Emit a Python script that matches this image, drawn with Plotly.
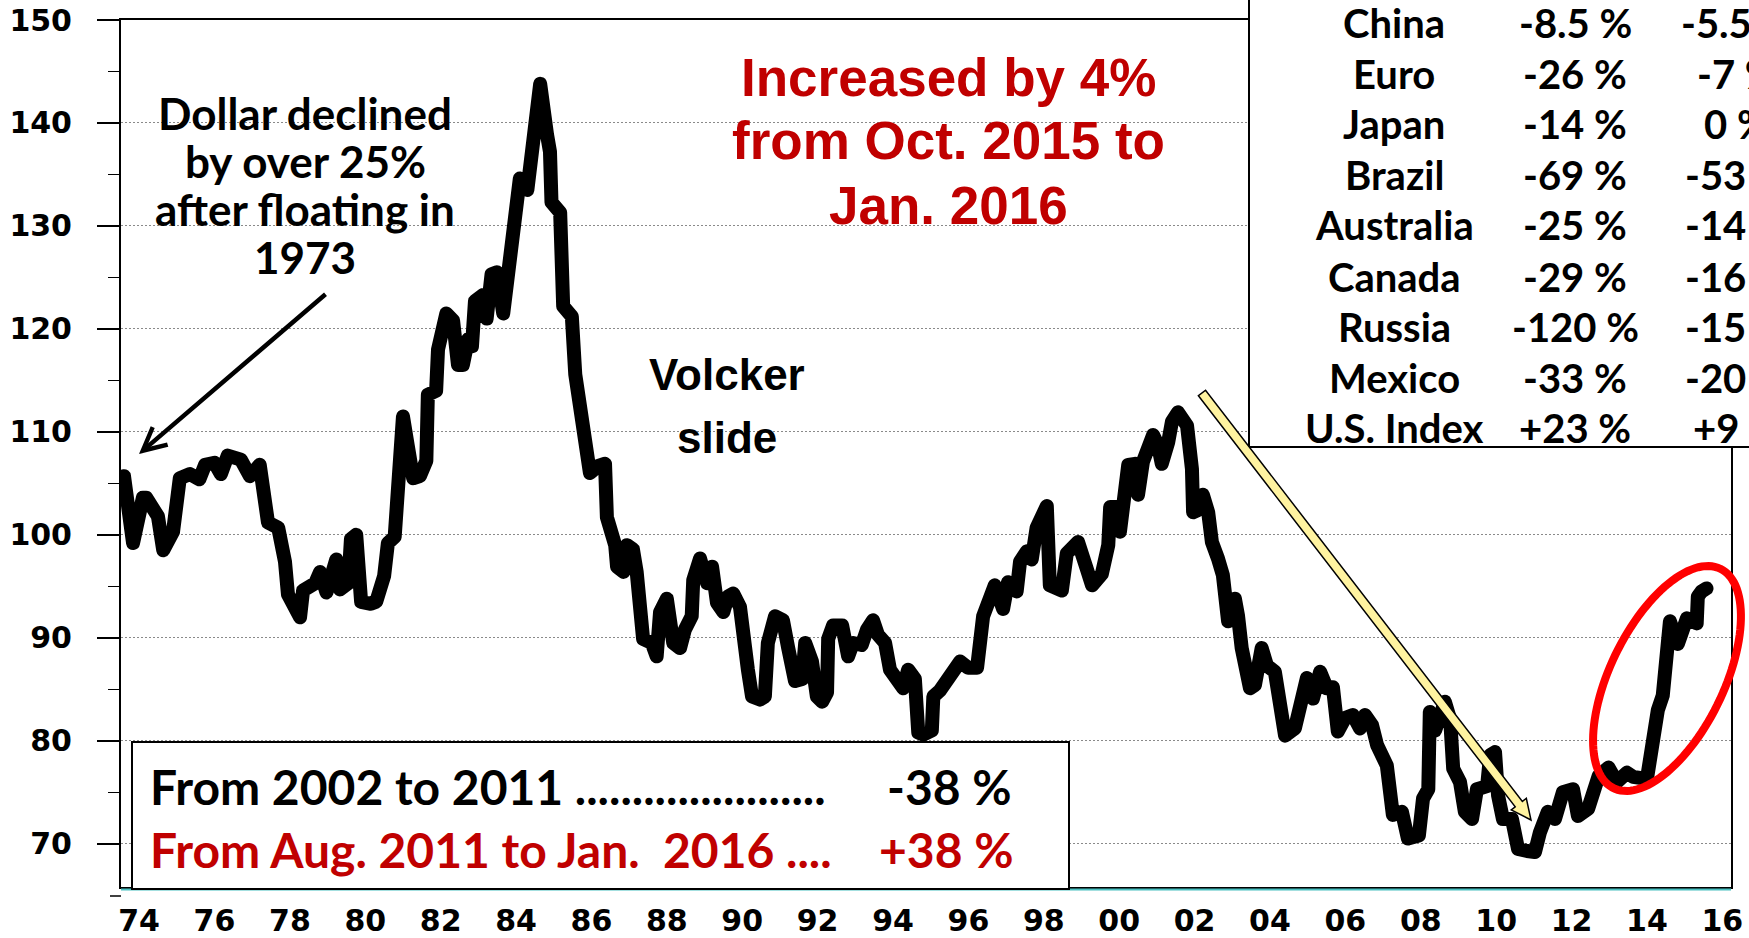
import numpy as np
import plotly.graph_objects as go

# ---------------- data ----------------
dates = [1973.60, 1973.84, 1974.10, 1974.19, 1974.50, 1974.64, 1974.90, 1975.08, 1975.35, 1975.60,
         1975.75, 1976.00, 1976.17, 1976.35, 1976.70, 1976.94, 1977.20, 1977.34, 1977.42, 1977.69,
         1977.87, 1977.95, 1978.27, 1978.35, 1978.67, 1978.80, 1978.97, 1979.23, 1979.33, 1979.55,
         1979.62, 1979.76, 1979.89, 1980.15, 1980.29, 1980.50, 1980.60, 1980.78, 1980.87, 1981.00,
         1981.13, 1981.27, 1981.45, 1981.62, 1981.66, 1981.88, 1981.93, 1982.15, 1982.33, 1982.46,
         1982.59, 1982.73, 1982.83, 1982.91, 1983.13, 1983.22, 1983.35, 1983.49, 1983.66, 1983.79,
         1983.92, 1984.10, 1984.30, 1984.45, 1984.64, 1984.82, 1984.90, 1984.94, 1985.17, 1985.25,
         1985.48, 1985.57, 1985.70, 1985.83, 1985.96, 1986.18, 1986.36, 1986.41, 1986.63, 1986.68,
         1986.85, 1986.94, 1987.10, 1987.20, 1987.29, 1987.37, 1987.60, 1987.73, 1987.82, 1988.00,
         1988.17, 1988.35, 1988.48, 1988.66, 1988.70, 1988.88, 1989.07, 1989.20, 1989.33, 1989.50,
         1989.62, 1989.76, 1989.94, 1990.02, 1990.15, 1990.26, 1990.47, 1990.60, 1990.68, 1990.87,
         1991.08, 1991.22, 1991.40, 1991.59, 1991.67, 1991.85, 1991.98, 1992.12, 1992.25, 1992.28,
         1992.41, 1992.65, 1992.81, 1992.94, 1993.17, 1993.31, 1993.47, 1993.60, 1993.79, 1993.92,
         1994.10, 1994.27, 1994.40, 1994.58, 1994.67, 1994.80, 1995.03, 1995.07, 1995.25, 1995.43,
         1995.60, 1995.78, 1995.99, 1996.23, 1996.39, 1996.57, 1996.70, 1996.92, 1997.05, 1997.28,
         1997.37, 1997.55, 1997.68, 1997.81, 1998.08, 1998.16, 1998.48, 1998.61, 1998.91, 1999.14,
         1999.28, 1999.54, 1999.71, 1999.76, 1999.97, 2000.02, 2000.15, 2000.24, 2000.42, 2000.50,
         2000.63, 2000.77, 2000.90, 2001.03, 2001.13, 2001.30, 2001.40, 2001.56, 2001.80, 2001.93,
         2001.96, 2002.09, 2002.22, 2002.36, 2002.46, 2002.62, 2002.75, 2002.89, 2003.07, 2003.15,
         2003.25, 2003.47, 2003.60, 2003.78, 2003.92, 2004.13, 2004.27, 2004.40, 2004.66, 2004.80,
         2004.98, 2005.14, 2005.33, 2005.51, 2005.67, 2005.80, 2005.99, 2006.20, 2006.39, 2006.52,
         2006.71, 2006.84, 2006.97, 2007.10, 2007.26, 2007.50, 2007.66, 2007.85, 2007.95, 2008.06,
         2008.20, 2008.24, 2008.38, 2008.64, 2008.78, 2008.86, 2009.04, 2009.17, 2009.36, 2009.49,
         2009.76, 2009.84, 2009.97, 2010.05, 2010.18, 2010.42, 2010.58, 2010.82, 2011.03, 2011.16,
         2011.37, 2011.56, 2011.77, 2012.04, 2012.17, 2012.44, 2012.63, 2012.72, 2012.98, 2013.20,
         2013.47, 2013.63, 2014.00, 2014.08, 2014.21, 2014.29, 2014.42, 2014.53, 2014.61, 2014.82,
         2014.96, 2015.06, 2015.32, 2015.35, 2015.45, 2015.58]

index_values = [105.7, 99.2, 103.6, 103.6, 101.8, 98.5, 100.3, 105.5, 105.9, 105.4,
                106.8, 107.0, 105.9, 107.7, 107.3, 105.7, 106.8, 104.3, 101.2, 100.7,
                97.4, 94.2, 92.0, 94.6, 95.3, 96.4, 94.4, 97.6, 94.7, 95.3,
                99.6, 100.0, 93.5, 93.3, 93.5, 96.0, 99.2, 99.8, 105.4, 111.5,
                108.6, 105.5, 105.7, 107.2, 113.6, 114.0, 118.0, 121.5, 120.8, 116.5,
                116.5, 119.0, 118.3, 122.7, 123.3, 121.0, 125.3, 125.5, 121.5, 125.8,
                130.7, 134.6, 133.5, 137.5, 143.8, 138.9, 137.2, 132.3, 131.3, 122.2,
                121.2, 115.6, 112.5, 109.9, 106.0, 106.7, 106.9, 101.7, 99.0, 96.9,
                96.4, 99.0, 98.6, 96.4, 92.1, 89.9, 89.5, 88.2, 92.5, 93.8,
                89.5, 89.0, 90.8, 92.1, 95.6, 97.7, 95.3, 96.9, 93.4, 92.5,
                94.0, 94.3, 93.0, 89.5, 86.9, 84.3, 84.0, 84.3, 89.5, 92.1,
                91.7, 89.0, 85.8, 86.0, 89.5, 87.7, 84.3, 83.8, 84.7, 89.9,
                91.2, 91.2, 88.2, 89.5, 89.3, 90.8, 91.7, 90.3, 89.5, 86.9,
                85.8, 85.1, 86.9, 86.0, 80.8, 80.6, 81.0, 84.3, 84.9, 86.0,
                86.9, 87.7, 87.1, 87.1, 92.1, 94.3, 95.1, 92.8, 95.4, 94.5,
                97.4, 98.4, 97.6, 100.7, 102.8, 95.1, 94.6, 98.2, 99.3, 96.7,
                95.1, 96.2, 99.0, 102.7, 102.7, 100.3, 104.2, 106.8, 106.9, 103.9,
                107.1, 108.5, 109.7, 108.7, 106.9, 109.0, 111.0, 111.9, 110.6, 106.4,
                102.2, 102.4, 103.9, 102.2, 99.3, 97.7, 96.1, 91.6, 93.8, 92.2,
                89.0, 85.1, 85.4, 89.0, 87.3, 86.7, 84.1, 80.5, 81.2, 83.8,
                86.1, 84.1, 86.7, 85.1, 85.2, 80.9, 82.2, 82.5, 81.2, 82.5,
                81.5, 79.6, 78.9, 77.6, 72.8, 73.1, 70.5, 70.8, 70.8, 74.4,
                75.3, 82.8, 81.0, 83.8, 82.1, 77.3, 76.0, 73.1, 72.4, 75.3,
                75.6, 78.6, 78.9, 74.7, 72.4, 72.4, 69.5, 69.3, 69.2, 71.1,
                73.1, 72.4, 75.0, 75.3, 72.7, 73.4, 75.3, 76.6, 77.4, 76.0,
                76.9, 76.5, 76.3, 78.2, 81.8, 83.0, 84.4, 88.6, 91.6, 89.4,
                91.6, 91.9, 91.4, 94.0, 94.5, 94.8]

tick_years = [1974, 1976, 1978, 1980, 1982, 1984, 1986, 1988, 1990, 1992, 1994,
              1996, 1998, 2000, 2002, 2004, 2006, 2008, 2010, 2012, 2014, 2016]
tick_labels = ["74", "76", "78", "80", "82", "84", "86", "88", "90", "92", "94",
               "96", "98", "00", "02", "04", "06", "08", "10", "12", "14", "16"]
y_ticks = [70, 80, 90, 100, 110, 120, 130, 140, 150]
y_minor_ticks = [75, 85, 95, 105, 115, 125, 135, 145]

countries = ["China", "Euro", "Japan", "Brazil", "Australia", "Canada", "Russia", "Mexico", "U.S. Index"]
change_long = ["-8.5 %", "-26 %", "-14 %", "-69 %", "-25 %", "-29 %", "-120 %", "-33 %", "+23 %"]
change_short = ["-5.5 %", "-7 %", "0 %", "-53 %", "-14 %", "-16 %", "-15 %", "-20 %", "+9 %"]

note_lines = ["Dollar declined", "by over 25%", "after floating in", "1973"]
red_lines = ["Increased by 4%", "from Oct. 2015 to", "Jan. 2016"]
volcker_lines = ["Volcker", "slide"]
box_text_1 = "From 2002 to 2011 ......................"
box_value_1 = "-38 %"
box_text_2 = "From Aug. 2011 to Jan.\u00a0 2016 ...."
box_value_2 = "+38 %"

# ---------------- layout geometry ----------------
W, H = 1749, 938
L, R, T, B = 121, 1731, 20, 887
X_RANGE = [1973.52, 2016.23]
Y_RANGE = [65.8, 150.0]


def fx(p):
    return (p - L) / (R - L)


def fy(p):
    return (B - p) / (B - T)


CAL = "Lato"
ARI = "Liberation Sans"
RED = "#C00000"

fig = go.Figure()
fig.add_trace(go.Scatter(x=dates, y=index_values, mode="lines",
                         line=dict(color="black", width=14), hoverinfo="skip"))

shapes = []
# white backgrounds behind text blocks (hide gridlines)
shapes.append(dict(type="rect", xref="paper", yref="paper", x0=fx(130), x1=fx(481),
                   y0=fy(300), y1=fy(78), fillcolor="white", line=dict(width=0), layer="between"))
shapes.append(dict(type="rect", xref="paper", yref="paper", x0=fx(697), x1=fx(1249),
                   y0=fy(250), y1=fy(40), fillcolor="white", line=dict(width=0), layer="between"))
# teal bottom edge
shapes.append(dict(type="line", xref="paper", yref="paper", x0=fx(121), x1=fx(1731),
                   y0=fy(889.5), y1=fy(889.5), line=dict(color="#48BFC0", width=2), layer="above"))
# minor tick at 65
shapes.append(dict(type="line", xref="paper", yref="paper", x0=fx(110), x1=fx(121),
                   y0=fy(896), y1=fy(896), line=dict(color="black", width=1.5), layer="above"))
# table box
shapes.append(dict(type="rect", xref="paper", yref="paper", x0=fx(1249), x1=fx(1775),
                   y0=fy(447), y1=fy(-10), fillcolor="white", line=dict(color="black", width=2),
                   layer="above"))
# bottom text box
shapes.append(dict(type="rect", xref="paper", yref="paper", x0=fx(132), x1=fx(1069),
                   y0=fy(889), y1=fy(742), fillcolor="white", line=dict(color="black", width=2),
                   layer="above"))

# yellow block arrow
p0 = np.array([1202.0, 393.0])
p1 = np.array([1531.0, 820.0])
u = (p1 - p0) / np.linalg.norm(p1 - p0)
n = np.array([-u[1], u[0]])
hw, hh, hl = 4.5, 9.5, 20.0
base = p1 - u * hl
poly = [p0 + n * hw, base + n * hw, base + n * hh, p1, base - n * hh, base - n * hw, p0 - n * hw]
path = "M " + " L ".join(f"{fx(p[0]):.5f},{fy(p[1]):.5f}" for p in poly) + " Z"
shapes.append(dict(type="path", xref="paper", yref="paper", path=path,
                   fillcolor="#FFF3A0", line=dict(color="black", width=1.5), layer="above"))

# red ellipse
cx, cy, ea, eb, th = 1667.0, 678.5, 122.0, 56.8, np.deg2rad(64)
t = np.linspace(0, 2 * np.pi, 120)
ex = cx + ea * np.cos(t) * np.cos(th) - eb * np.sin(t) * np.sin(th)
ey = cy - (ea * np.cos(t) * np.sin(th) + eb * np.sin(t) * np.cos(th))
epath = "M " + " L ".join(f"{fx(a):.5f},{fy(b):.5f}" for a, b in zip(ex, ey)) + " Z"
shapes.append(dict(type="path", xref="paper", yref="paper", path=epath,
                   line=dict(color="#FF0000", width=8), layer="above"))

annotations = []


def txt(text, x, y, size, family, color="black", xanchor="center"):
    annotations.append(dict(text=text, x=fx(x), y=fy(y), xref="paper", yref="paper",
                            xanchor=xanchor, yanchor="middle", showarrow=False,
                            font=dict(family=family, size=size, color=color, weight="bold")))


for line, yy in zip(note_lines, [113, 161, 209, 257]):
    txt(line, 305, yy, 44, CAL)
for line, yy in zip(red_lines, [77, 141, 205]):
    txt(line, 948, yy, 53, ARI, RED)
for line, yy in zip(volcker_lines, [374, 437]):
    txt(line, 727, yy, 44, ARI)

txt(box_text_1, 148, 786, 48, CAL, xanchor="left")
txt(box_value_1, 885, 786, 48, CAL, xanchor="left")
txt(box_text_2, 148, 849, 48, CAL, RED, xanchor="left")
txt(box_value_2, 877, 849, 48, CAL, RED, xanchor="left")

row_y = [23, 74, 124, 175, 225, 277, 327, 378, 428]
for c, a, b, yy in zip(countries, change_long, change_short, row_y):
    txt(c, 1394, yy, 40, CAL)
    txt(a, 1575, yy, 40, CAL)
    txt(b, 1737, yy, 40, CAL)

# black arrow
annotations.append(dict(text="", x=fx(139), y=fy(454), xref="paper", yref="paper",
                        ax=188, ay=-161, showarrow=True, arrowhead=5, arrowsize=1.0,
                        arrowwidth=4.5, arrowcolor="black"))

fig.update_layout(
    width=W, height=H,
    margin=dict(l=L, r=W - R, t=T, b=H - B, pad=0, autoexpand=False),
    paper_bgcolor="white", plot_bgcolor="white",
    showlegend=False,
    shapes=shapes, annotations=annotations,
    xaxis=dict(range=X_RANGE, tickmode="array", tickvals=tick_years, ticktext=tick_labels,
               ticks="", showgrid=False, zeroline=False, automargin=False,
               showline=True, linecolor="black", linewidth=2, mirror=True,
               tickfont=dict(family="DejaVu Sans", size=30, color="black", weight="bold"),
               ticklabelstandoff=6),
    yaxis=dict(range=Y_RANGE, tickmode="array", tickvals=y_ticks, automargin=False,
               ticks="outside", ticklen=22, tickwidth=1.5, tickcolor="black",
               minor=dict(tickmode="array", tickvals=y_minor_ticks, ticks="outside",
                          ticklen=11, tickwidth=1.5, tickcolor="black", showgrid=False),
               showgrid=True, gridcolor="#8a8a8a", gridwidth=1, griddash="2px,2px",
               zeroline=False,
               showline=True, linecolor="black", linewidth=2, mirror=True,
               tickfont=dict(family="DejaVu Sans", size=30, color="black", weight="bold"),
               ticklabelstandoff=19),
)

post = (
    "document.body.style.margin='0px';document.body.style.overflow='hidden';"
    "var gd=document.getElementById('{plot_id}');"
    "function rj(){gd.querySelectorAll('.js-line').forEach(function(e){"
    "e.style.strokeLinejoin='round';e.style.strokeLinecap='round';});}"
    "rj();setTimeout(rj,50);if(gd.on){gd.on('plotly_afterplot',rj);}"
)
fig.write_html("out.html", config={"displayModeBar": False, "staticPlot": True},
               post_script=post)
